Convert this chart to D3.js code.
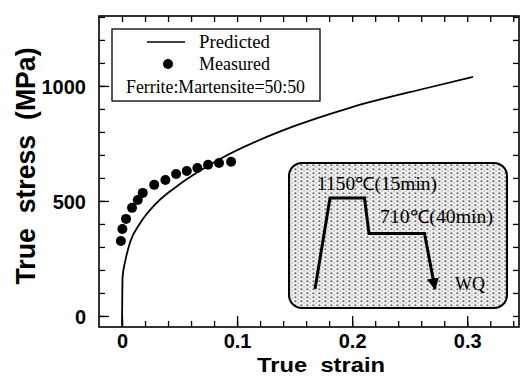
<!DOCTYPE html>
<html>
<head>
<meta charset="utf-8">
<script src="https://cdn.jsdelivr.net/npm/d3@7"></script>
<style>
  body { margin: 0; background: #fff; }
  svg { display: block; }
</style>
</head>
<body>
<svg id="chart" width="522" height="377"></svg>
<script>
// predicted flow curve (true strain, true stress MPa)
const predStrain = [0, 0.0005, 0.003, 0.007, 0.016, 0.030, 0.048, 0.068, 0.088, 0.12, 0.149, 0.198, 0.265, 0.305];
const predStress = [-48, 170, 243, 320, 405, 491, 565, 632, 690, 766, 824, 905, 991, 1039];

// measured points
const measStrain = [-0.001, 0.0003, 0.0035, 0.0087, 0.0137, 0.018, 0.028, 0.0377, 0.047, 0.0563, 0.0655, 0.0748, 0.0843, 0.0948];
const measStress = [326, 378, 422, 470, 504, 535, 570, 591, 617, 630, 643, 657, 665, 670];

const xTicks = [0, 0.1, 0.2, 0.3];
const yTicks = [0, 500, 1000];

// heat treatment schedule for the inset (schematic time, temperature C)
const htTime = [0, 1, 3.3, 3.6, 7.3, 8];
const htTemp = [20, 1150, 1150, 710, 710, 20];

const svg = d3.select('#chart');
const margin = { top: 16, right: 3, bottom: 50, left: 99 };
const W = 522, H = 377;

const x = d3.scaleLinear().domain([-0.02, 0.345]).range([margin.left, W - margin.right]);
const y = d3.scaleLinear().domain([-48, 1304]).range([H - margin.bottom, margin.top]);

const defs = svg.append('defs');
defs.append('clipPath').attr('id', 'plotClip')
  .append('rect')
  .attr('x', margin.left).attr('y', margin.top)
  .attr('width', W - margin.right - margin.left)
  .attr('height', H - margin.bottom - margin.top);

// stipple pattern for the inset
const pat = defs.append('pattern')
  .attr('id', 'stipple')
  .attr('width', 6).attr('height', 4)
  .attr('patternUnits', 'userSpaceOnUse');
pat.append('rect').attr('width', 6).attr('height', 4).attr('fill', '#efefef');
pat.append('rect').attr('x', 0.5).attr('y', 0.5).attr('width', 1.8).attr('height', 1.5).attr('fill', '#555');
pat.append('rect').attr('x', 3.5).attr('y', 2.5).attr('width', 1.2).attr('height', 1).attr('fill', '#888');

defs.append('marker')
  .attr('id', 'arrow')
  .attr('viewBox', '0 0 10 10')
  .attr('refX', 9).attr('refY', 5)
  .attr('markerWidth', 4).attr('markerHeight', 4)
  .attr('markerUnits', 'strokeWidth')
  .attr('orient', 'auto')
  .append('path').attr('d', 'M0,0 L10,5 L0,10 Z').attr('fill', '#000');

// axes (ticks inward)
const minorX = d3.range(0, 0.345, 0.02);
const minorY = d3.range(0, 1304, 100);

const axisFont = '"Liberation Sans", Arial, Helvetica, sans-serif';

const axBottom = svg.append('g').attr('transform', `translate(0,${y.range()[0]})`)
  .call(d3.axisBottom(x).tickValues(minorX).tickSize(-6).tickFormat(''));
const axBottomMaj = svg.append('g').attr('transform', `translate(0,${y.range()[0]})`)
  .call(d3.axisBottom(x).tickValues(xTicks).tickSize(-11).tickFormat(d3.format('')));
const axTop = svg.append('g').attr('transform', `translate(0,${margin.top})`)
  .call(d3.axisTop(x).tickValues(minorX).tickSize(-6).tickFormat(''));
const axLeft = svg.append('g').attr('transform', `translate(${margin.left},0)`)
  .call(d3.axisLeft(y).tickValues(minorY).tickSize(-6).tickFormat(''));
const axLeftMaj = svg.append('g').attr('transform', `translate(${margin.left},0)`)
  .call(d3.axisLeft(y).tickValues(yTicks).tickSize(-10).tickFormat(d3.format('')));
const axRight = svg.append('g').attr('transform', `translate(${W - margin.right},0)`)
  .call(d3.axisRight(y).tickValues(minorY).tickSize(-6).tickFormat(''));

[axBottom, axBottomMaj, axTop, axLeft, axLeftMaj, axRight].forEach(g => {
  g.select('.domain').remove();
  g.selectAll('.tick line').attr('stroke', '#000').attr('stroke-width', 1.3);
});

axBottomMaj.selectAll('.tick text')
  .attr('y', 21).attr('dy', 0)
  .attr('font-family', axisFont).attr('font-weight', 'bold').attr('font-size', 20)
  .attr('fill', '#000');
axLeftMaj.selectAll('.tick text')
  .attr('x', -13).attr('dy', '0.36em')
  .attr('font-family', axisFont).attr('font-weight', 'bold').attr('font-size', 20)
  .attr('fill', '#000');

// frame
svg.append('rect')
  .attr('x', margin.left).attr('y', margin.top)
  .attr('width', W - margin.right - margin.left)
  .attr('height', H - margin.bottom - margin.top)
  .attr('fill', 'none').attr('stroke', '#000').attr('stroke-width', 1.6);

// axis titles
svg.append('text')
  .attr('x', 321).attr('y', 372)
  .attr('text-anchor', 'middle')
  .attr('font-family', axisFont).attr('font-weight', 'bold').attr('font-size', 21)
  .attr('word-spacing', 6)
  .attr('textLength', 128).attr('lengthAdjust', 'spacingAndGlyphs')
  .text('True strain');

svg.append('text')
  .attr('transform', 'translate(35,166) rotate(-90)')
  .attr('text-anchor', 'middle')
  .attr('font-family', axisFont).attr('font-weight', 'bold').attr('font-size', 28)
  .attr('word-spacing', 8)
  .attr('textLength', 237).attr('lengthAdjust', 'spacingAndGlyphs')
  .text('True stress (MPa)');

// predicted curve
const line = d3.line()
  .x((d, i) => x(predStrain[i]))
  .y(d => y(d))
  .curve(d3.curveMonotoneX);

svg.append('path')
  .datum(predStress)
  .attr('clip-path', 'url(#plotClip)')
  .attr('d', line)
  .attr('fill', 'none')
  .attr('stroke', '#000')
  .attr('stroke-width', 1.8);

// measured points
svg.append('g').selectAll('circle')
  .data(measStress)
  .enter().append('circle')
  .attr('cx', (d, i) => x(measStrain[i]))
  .attr('cy', d => y(d))
  .attr('r', 5)
  .attr('fill', '#000');

// legend
const serif = '"Liberation Serif", "Times New Roman", Times, serif';
const leg = svg.append('g');
leg.append('rect')
  .attr('x', 112).attr('y', 29).attr('width', 208).attr('height', 72)
  .attr('fill', '#fff').attr('stroke', '#000').attr('stroke-width', 1.3);
leg.append('line')
  .attr('x1', 147).attr('x2', 185).attr('y1', 42).attr('y2', 42)
  .attr('stroke', '#000').attr('stroke-width', 1.5);
leg.append('circle').attr('cx', 168).attr('cy', 64).attr('r', 5).attr('fill', '#000');
leg.append('text').attr('x', 199).attr('y', 48)
  .attr('font-family', serif).attr('font-size', 18)
  .attr('textLength', 71).attr('lengthAdjust', 'spacingAndGlyphs').text('Predicted');
leg.append('text').attr('x', 199).attr('y', 70)
  .attr('font-family', serif).attr('font-size', 18)
  .attr('textLength', 71).attr('lengthAdjust', 'spacingAndGlyphs').text('Measured');
leg.append('text').attr('x', 126).attr('y', 93)
  .attr('font-family', serif).attr('font-size', 18)
  .attr('textLength', 179).attr('lengthAdjust', 'spacingAndGlyphs').text('Ferrite:Martensite=50:50');

// inset: heat treatment schedule
const inset = svg.append('g');
inset.append('rect')
  .attr('x', 289).attr('y', 163).attr('width', 218).attr('height', 145)
  .attr('rx', 13).attr('ry', 13)
  .attr('fill', 'url(#stipple)')
  .attr('stroke', '#000').attr('stroke-width', 2);

const tx = d3.scaleLinear().domain([0, 8]).range([315, 435]);
const ty = d3.scaleLinear().domain([20, 1150]).range([289, 198]);

inset.append('path')
  .datum(htTemp)
  .attr('d', d3.line().x((d, i) => tx(htTime[i])).y(d => ty(d)))
  .attr('fill', 'none')
  .attr('stroke', '#000')
  .attr('stroke-width', 3)
  .attr('stroke-linejoin', 'miter')
  .attr('marker-end', 'url(#arrow)');

inset.append('text').attr('x', 317).attr('y', 190)
  .attr('font-family', serif).attr('font-size', 18)
  .attr('textLength', 120).attr('lengthAdjust', 'spacingAndGlyphs').text('1150℃(15min)');
inset.append('text').attr('x', 380).attr('y', 223)
  .attr('font-family', serif).attr('font-size', 18)
  .attr('textLength', 113).attr('lengthAdjust', 'spacingAndGlyphs').text('710℃(40min)');
inset.append('text').attr('x', 455).attr('y', 290)
  .attr('font-family', serif).attr('font-size', 18)
  .attr('textLength', 30).attr('lengthAdjust', 'spacingAndGlyphs').text('WQ');
</script>
</body>
</html>
